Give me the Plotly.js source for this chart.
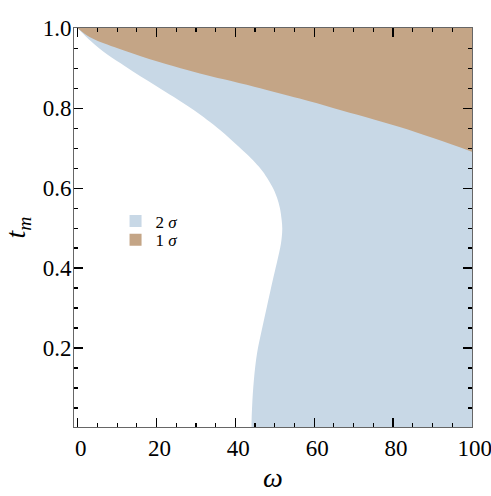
<!DOCTYPE html>
<html>
<head>
<meta charset="utf-8">
<script src="https://cdn.plot.ly/plotly-3.0.1.min.js"></script>
<style>html,body{margin:0;padding:0;background:#fff;}#chart{width:491px;height:496px;}</style>
</head>
<body>
<div id="chart"></div>
<script>
// 2-sigma region: left boundary (omega, t_m), from top to bottom
const omega2 = [0, 1.5, 3.3, 7.5, 12, 16, 20, 24.4, 28, 31.2, 34.4, 38.5, 42.8, 45, 47, 49.6, 50.6, 51.3, 51.75, 51.9, 51.8, 51.55, 51.15, 50.5, 49.5, 48.0, 46.7, 45.5, 44.7, 44.25, 44.1];
const tm2    = [1.0, 0.985, 0.968, 0.934, 0.905, 0.879, 0.855, 0.828, 0.805, 0.783, 0.759, 0.725, 0.686, 0.664, 0.641, 0.599, 0.575, 0.55, 0.52, 0.5, 0.48, 0.46, 0.44, 0.412, 0.37, 0.303, 0.245, 0.187, 0.12, 0.053, 0.0];
// 1-sigma region: lower boundary (omega, t_m)
const omega1 = [0, 3, 7.5, 16, 24.4, 31, 37.1, 45, 56.3, 65, 73, 81.7, 90, 100];
const tm1    = [1.0, 0.978, 0.959, 0.93, 0.905, 0.887, 0.872, 0.853, 0.824, 0.8, 0.778, 0.753, 0.726, 0.691];
const seriesNames = ['2 <i>σ</i>', '1 <i>σ</i>'];
const seriesColors = ['#c8d8e6', '#c4a586'];
const xTicks = [0, 20, 40, 60, 80, 100];
const yTicks = [0.2, 0.4, 0.6, 0.8, 1.0];

// closing anchors lying outside the visible axes (only used to close the filled regions)
const closeBlueX  = [44.0, 130, 130, -3, -1.5];
const closeBlueY  = [-0.3, -0.3, 1.3, 1.3, 1.015];
const closeBrownX = [110, 130, -3, -1.5];
const closeBrownY = [0.652, 1.3, 1.3, 1.011];

const fillStyle = {mode: 'lines', fill: 'toself', line: {width: 0, shape: 'spline', smoothing: 1}, showlegend: false, hoverinfo: 'skip'};
const blue  = Object.assign({}, fillStyle, {x: omega2.concat(closeBlueX),  y: tm2.concat(closeBlueY),  fillcolor: seriesColors[0]});
const brown = Object.assign({}, fillStyle, {x: omega1.concat(closeBrownX), y: tm1.concat(closeBrownY), fillcolor: seriesColors[1]});

const legendIds = ['legend', 'legend2'];
const leg = seriesNames.map((n, i) => ({
  x: [null], y: [null], mode: 'markers', name: n, legend: legendIds[i],
  marker: {symbol: 'square', size: 12, color: seriesColors[i]}
}));

const font = "'Liberation Serif', 'Times New Roman', serif";
const axisCommon = {
  showgrid: false, zeroline: false, showline: true, linecolor: '#666', linewidth: 1,
  mirror: 'ticks', ticks: 'inside', ticklen: 9, tickwidth: 1.2, tickcolor: '#000',
  tickfont: {family: font, size: 23, color: '#000'}, ticklabeloverflow: 'allow'
};
const legFont = {family: font, size: 17, color: '#000'};
const layout = {
  width: 491, height: 496,
  margin: {l: 74, r: 19, t: 28, b: 69},
  paper_bgcolor: '#fff', plot_bgcolor: '#fff',
  showlegend: true,
  legend:  {x: 0.1044, y: 0.5605, xanchor: 'left', yanchor: 'top', bgcolor: 'rgba(0,0,0,0)', font: legFont, itemwidth: 30},
  legend2: {x: 0.1044, y: 0.5135, xanchor: 'left', yanchor: 'top', bgcolor: 'rgba(0,0,0,0)', font: legFont, itemwidth: 30},
  xaxis: Object.assign({}, axisCommon, {
    range: [-0.95, 100.05], tickvals: xTicks, ticktext: xTicks.map(String),
    minor: {dtick: 5, tick0: 0, ticks: 'inside', ticklen: 4, tickwidth: 1.2, tickcolor: '#000', showgrid: false},
    ticklabelshift: 3,
    title: {text: '<i>ω</i>', font: {family: font, size: 28, color: '#000'}, standoff: 7}
  }),
  yaxis: Object.assign({}, axisCommon, {
    range: [0.0025, 1.0005], tickvals: yTicks, ticktext: yTicks.map(v => v.toFixed(1)),
    minor: {dtick: 0.05, tick0: 0, ticks: 'inside', ticklen: 4, tickwidth: 1.2, tickcolor: '#000', showgrid: false},
    ticklabelstandoff: -3,
    title: {text: '<i>t</i><sub><i>m</i></sub>', font: {family: font, size: 28, color: '#000'}, standoff: 10}
  })
};
Plotly.newPlot('chart', [blue, brown].concat(leg), layout, {displayModeBar: false, staticPlot: true});
</script>
</body>
</html>
